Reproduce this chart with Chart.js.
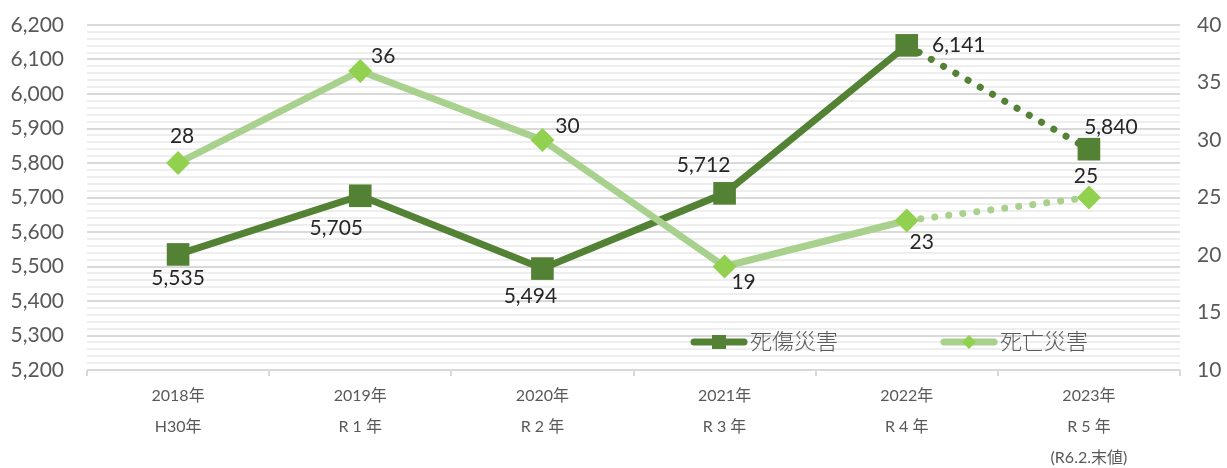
<!DOCTYPE html>
<html>
<head>
<meta charset="utf-8">
<script src="https://cdn.jsdelivr.net/npm/chart.js@4/dist/chart.umd.min.js"></script>
<style>
  html, body { margin: 0; padding: 0; background: #fff; }
  #wrap { width: 1227px; height: 468px; }
</style>
</head>
<body>
<div id="wrap"><canvas id="chart" width="1227" height="468"></canvas></div>
<script>
const years = [["2018年", "H30年"], ["2019年", "R 1 年"], ["2020年", "R 2 年"], ["2021年", "R 3 年"], ["2022年", "R 4 年"], ["2023年", "R 5 年", "(R6.2.末値)"]];
const injuries = [5535, 5705, 5494, 5712, 6141, 5840];   // 死傷災害 (left axis)
const deaths = [28, 36, 30, 19, 23, 25];                  // 死亡災害 (right axis)
const seriesNames = ["死傷災害", "死亡災害"];

const FONT = "Lato, 'Noto Sans CJK JP', sans-serif";
const DARK = "#548235";
const LIGHT = "#a9d18e";
const LIGHT_MARK = "#92d050";

// where each data label sits relative to its point
const labelOffsets = [
  [[0, 24], [-24, 32], [-12, 28], [-21, -28], [52, 0], [22, -22]],
  [[4, -27], [23, -15], [25, -14], [19, 16], [15, 22], [-3, -21]]
];

const dottedLast = {
  borderDash: c => c.p1DataIndex === years.length - 1 ? [0.1, 14] : undefined
};

const dataLabels = {
  id: "dataLabels",
  afterDatasetsDraw(chart) {
    const ctx = chart.ctx;
    ctx.save();
    ctx.font = "21px " + FONT;
    ctx.fillStyle = "#262626";
    ctx.textAlign = "center";
    ctx.textBaseline = "middle";
    chart.data.datasets.forEach((ds, i) => {
      chart.getDatasetMeta(i).data.forEach((pt, j) => {
        const v = ds.data[j].toLocaleString("en-US");
        const o = labelOffsets[i][j];
        ctx.fillText(v, pt.x + o[0], pt.y + o[1]);
      });
    });
    ctx.restore();
  }
};

const innerLegend = {
  id: "innerLegend",
  afterDraw(chart) {
    const ctx = chart.ctx;
    const items = [
      { x: 690, color: DARK, mark: "square" },
      { x: 940, color: LIGHT, mark: "diamond" }
    ];
    const y = 342;
    ctx.save();
    items.forEach((it, i) => {
      ctx.strokeStyle = it.color;
      ctx.lineWidth = 7;
      ctx.lineCap = "round";
      ctx.beginPath();
      ctx.moveTo(it.x + 4, y);
      ctx.lineTo(it.x + 54, y);
      ctx.stroke();
      const cx = it.x + 29;
      if (it.mark === "square") {
        ctx.fillStyle = DARK;
        ctx.fillRect(cx - 7, y - 7, 14, 14);
      } else {
        ctx.fillStyle = LIGHT_MARK;
        ctx.beginPath();
        ctx.moveTo(cx, y - 7);
        ctx.lineTo(cx + 7, y);
        ctx.lineTo(cx, y + 7);
        ctx.lineTo(cx - 7, y);
        ctx.closePath();
        ctx.fill();
      }
      ctx.fillStyle = "#595959";
      ctx.font = "300 22px " + FONT;
      ctx.textAlign = "left";
      ctx.textBaseline = "middle";
      ctx.fillText(seriesNames[i], it.x + 60, y);
    });
    ctx.restore();
  }
};

// keep the tick padding from pushing the plot area down
const noVertPad = s => { s.paddingTop = 0; s.paddingBottom = 0; };

new Chart(document.getElementById("chart"), {
  type: "line",
  data: {
    labels: years,
    datasets: [
      {
        label: seriesNames[0],
        data: injuries,
        yAxisID: "y",
        borderColor: DARK,
        borderWidth: 7,
        borderCapStyle: "round",
        pointStyle: "rect",
        pointRadius: 16,
        pointHoverRadius: 16,
        pointBackgroundColor: DARK,
        pointBorderColor: DARK,
        pointBorderWidth: 0,
        segment: dottedLast,
        clip: false,
        order: 2
      },
      {
        label: seriesNames[1],
        data: deaths,
        yAxisID: "y2",
        borderColor: LIGHT,
        borderWidth: 7,
        borderCapStyle: "round",
        pointStyle: "rectRot",
        pointRadius: 12,
        pointHoverRadius: 12,
        pointBackgroundColor: LIGHT_MARK,
        pointBorderColor: LIGHT_MARK,
        pointBorderWidth: 0,
        segment: dottedLast,
        clip: false,
        order: 1
      }
    ]
  },
  options: {
    responsive: false,
    animation: false,
    layout: { padding: { top: 25, bottom: 0 } },
    plugins: {
      legend: { display: false },
      tooltip: { enabled: false }
    },
    scales: {
      x: {
        offset: true,
        afterFit: s => { s.height = 98; },
        grid: {
          offset: true,
          drawOnChartArea: false,
          tickLength: 6,
          color: "#d9d9d9",
          lineWidth: 2
        },
        border: { display: false },
        ticks: {
          color: "#595959",
          font: { family: FONT, size: 16, lineHeight: 1.95 },
          padding: 4,
          maxRotation: 0,
          autoSkip: false
        }
      },
      y: {
        position: "left",
        min: 5200,
        max: 6200,
        afterFit: s => { s.width = 87; noVertPad(s); },
        afterBuildTicks: s => {
          s.ticks = [];
          for (let v = 5200; v <= 6200; v += 20) s.ticks.push({ value: v });
        },
        grid: {
          drawTicks: false,
          color: c => c.tick.value % 100 === 0 ? "#d9d9d9" : "#eeeeee",
          lineWidth: 2
        },
        border: { display: false },
        ticks: {
          autoSkip: false,
          color: "#595959",
          padding: 23,
          font: { family: FONT, size: 21 },
          callback: v => v % 100 === 0 ? v.toLocaleString("en-US") : ""
        }
      },
      y2: {
        position: "right",
        min: 10,
        max: 40,
        afterFit: s => { s.width = 47; noVertPad(s); },
        grid: { drawOnChartArea: false, drawTicks: false },
        border: { display: false },
        ticks: {
          stepSize: 5,
          color: "#595959",
          padding: 17,
          font: { family: FONT, size: 21 }
        }
      }
    }
  },
  plugins: [dataLabels, innerLegend]
});
</script>
</body>
</html>
